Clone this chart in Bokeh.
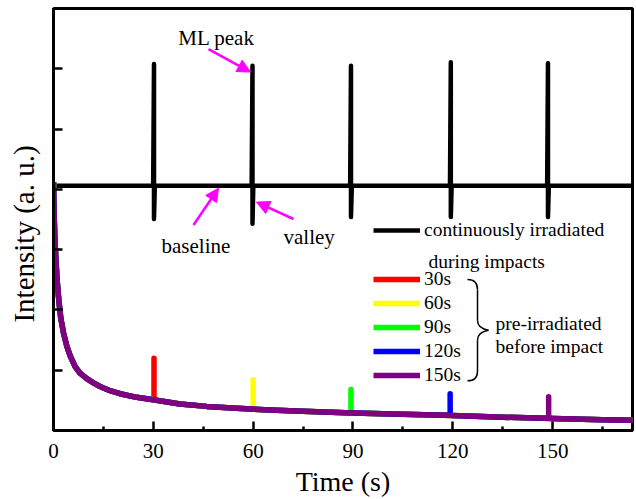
import numpy as np
from bokeh.plotting import figure
from bokeh.models import (FixedTicker, Label, Arrow, NormalHead, Legend, LegendItem, Range1d,
                          CustomLabelingPolicy)
from bokeh.embed import file_html
from bokeh.resources import INLINE

FONT = "Liberation Serif"
MAGENTA = "#ff00ff"

# ---------------- data ----------------
# continuously irradiated during impacts (black)
black_baseline = 4.06
impact_times = [30.2, 59.8, 89.4, 119.4, 148.6]
black_peaks = [6.08, 6.05, 6.05, 6.11, 6.09]
black_valleys = [3.51, 3.43, 3.54, 3.54, 3.54]
t_end = 174.0

# afterglow decay of the pre-irradiated samples
decay_t = [0, 0.15, 0.4, 0.7, 1.1, 1.6, 2.2, 3.0, 4.0, 5.0, 6.5, 8.0, 10, 12, 14, 17,
           20, 25, 30, 38, 46, 55, 65, 75, 90, 105, 120, 135, 150, 165, 174]
decay_v = [4.12, 3.65, 3.20, 2.85, 2.48, 2.16, 1.86, 1.62, 1.40, 1.24, 1.06, 0.95, 0.86,
           0.79, 0.73, 0.66, 0.61, 0.55, 0.51, 0.44, 0.40, 0.37, 0.34, 0.32, 0.29, 0.27,
           0.25, 0.22, 0.20, 0.18, 0.17]

pre_labels = ["30s", "60s", "90s", "120s", "150s"]
pre_times = [30.2, 60.0, 89.4, 119.2, 148.8]
pre_peaks = [1.20, 0.84, 0.68, 0.61, 0.56]
pre_colors = ["#ff0000", "#ffff00", "#00ff00", "#0000ff", "#800080"]

x_ticks = [0, 30, 60, 90, 120, 150]
x_minor = [15, 45, 75, 105, 135, 165]
y_ticks = [1, 2, 3, 4, 5, 6]

# ---------------- figure ----------------
XMAX, YMAX = 174.0, 7.0
p = figure(width=636, height=499, output_backend="svg", toolbar_location=None,
           x_range=Range1d(0, XMAX), y_range=Range1d(0, YMAX),
           min_border_left=53, min_border_right=4, min_border_top=8, min_border_bottom=66)
p.background_fill_color = "white"
p.border_fill_color = "white"
p.grid.visible = False
p.outline_line_color = "black"
p.outline_line_width = 3

# frame geometry for annotation placement (pixels -> data)
FX0, FW, FY0, FH = 53.0, 579.0, 433.0, 425.0
def px_x(px):
    return (px - FX0) / FW * XMAX
def px_y(py):
    return (FY0 - py) / FH * YMAX

# black series
bx, by = [0.0], [black_baseline]
for t, pk, vl in zip(impact_times, black_peaks, black_valleys):
    bx += [t - 0.25, t, t, t + 0.25]
    by += [black_baseline, pk, vl, black_baseline]
bx.append(t_end)
by.append(black_baseline)
black_r = p.line(bx, by, line_color="black", line_width=4.5, line_join="round")

# pre-irradiated series
color_renderers = []
for t, pk, c in zip(pre_times, pre_peaks, pre_colors):
    base = float(np.interp(t, decay_t, decay_v))
    xs = [d for d in decay_t if d < t] + [t, t, t] + [d for d in decay_t if d > t]
    ys = [v for d, v in zip(decay_t, decay_v) if d < t] + [base, pk, base] + \
         [v for d, v in zip(decay_t, decay_v) if d > t]
    r = p.line(xs, ys, line_color=c, line_width=5.5, line_join="round")
    color_renderers.append(r)

# axes
p.xaxis.ticker = FixedTicker(ticks=x_ticks, minor_ticks=x_minor)
p.yaxis.ticker = FixedTicker(ticks=y_ticks, minor_ticks=[])
for ax in (p.xaxis[0], p.yaxis[0]):
    ax.axis_line_width = 3
    ax.axis_line_color = "black"
    ax.major_tick_line_width = 2.5
    ax.minor_tick_line_width = 2.5
    ax.major_tick_in = 9
    ax.major_tick_out = 0
    ax.minor_tick_in = 4
    ax.minor_tick_out = 0
    ax.major_label_text_font = FONT
    ax.axis_label_text_font = FONT
    ax.axis_label_text_font_style = "normal"
    ax.axis_label_text_color = "black"
    ax.major_label_text_color = "black"
p.xaxis.major_label_text_font_size = "21px"
p.xaxis.major_label_standoff = 13
p.xaxis.axis_label = "Time (s)"
p.xaxis.axis_label_text_font_size = "28px"
p.xaxis.axis_label_standoff = 5

p.yaxis.major_label_text_font_size = "1px"
p.yaxis.major_label_standoff = 0
p.yaxis.major_label_policy = CustomLabelingPolicy(code="return new Set()")
p.yaxis.minor_tick_line_color = None
p.yaxis.axis_label = "Intensity (a. u.)\u00a0\u00a0\u00a0\u00a0"
p.yaxis.axis_label_text_font_size = "29px"
p.yaxis.axis_label_standoff = 10

# legends
leg1 = Legend(items=[LegendItem(label="continuously irradiated", renderers=[black_r])],
              location=(320, 189))
leg2 = Legend(items=[LegendItem(label=l, renderers=[r]) for l, r in zip(pre_labels, color_renderers)],
              location=(320, 44))
for lg in (leg1, leg2):
    lg.glyph_width = 47
    lg.glyph_height = 20
    lg.label_height = 20
    lg.label_standoff = 4
    lg.spacing = 2
    lg.padding = 0
    lg.margin = 0
    lg.border_line_alpha = 0
    lg.background_fill_alpha = 0
    lg.label_text_font = FONT
    lg.label_text_font_size = "19.5px"
    lg.label_text_color = "black"
    p.add_layout(lg)

def txt(x, y, s, size, align="left"):
    p.add_layout(Label(x=x, y=y, text=s, text_font=FONT, text_font_size=size,
                       text_align=align, text_baseline="alphabetic", text_color="black"))

txt(px_x(428), px_y(263), "during impacts", "19.5px")
txt(px_x(495), px_y(325), "pre-irradiated", "19.5px")
txt(px_x(495), px_y(348), "before impact", "19.5px")

# brace
segs = [
    ((467, 281), (474, 281), (477, 285), (477, 291)),
    ((477, 291), (477, 301), (477, 312), (477, 322)),
    ((477, 322), (477, 328), (482, 331), (488, 332)),
    ((488, 332), (482, 333), (477, 336), (477, 342)),
    ((477, 342), (477, 352), (477, 363), (477, 373)),
    ((477, 373), (477, 379), (474, 383), (467, 383)),
]
p.bezier(x0=[px_x(s[0][0]) for s in segs], y0=[px_y(s[0][1]) for s in segs],
         cx0=[px_x(s[1][0]) for s in segs], cy0=[px_y(s[1][1]) for s in segs],
         cx1=[px_x(s[2][0]) for s in segs], cy1=[px_y(s[2][1]) for s in segs],
         x1=[px_x(s[3][0]) for s in segs], y1=[px_y(s[3][1]) for s in segs],
         line_color="black", line_width=1.5)

# annotations
txt(px_x(216), px_y(38), "ML peak", "21px", align="center")
txt(px_x(161), px_y(247), "baseline", "21px")
txt(px_x(283), px_y(238), "valley", "21px")

def arrow(x0, y0, x1, y1):
    p.add_layout(Arrow(end=NormalHead(size=13, fill_color=MAGENTA, line_color=MAGENTA, line_width=1),
                       x_start=px_x(x0), y_start=px_y(y0), x_end=px_x(x1), y_end=px_y(y1),
                       line_color=MAGENTA, line_width=2.5))

arrow(208, 49, 250, 72)
arrow(193, 226, 218, 189)
arrow(293, 220, 256, 203)

open("out.html", "w").write(file_html(p, INLINE))
